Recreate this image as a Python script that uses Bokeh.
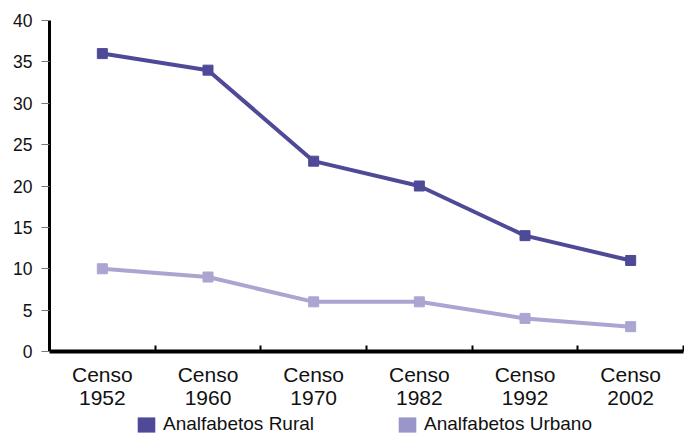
from bokeh.plotting import figure
from bokeh.layouts import column
from bokeh.models import FixedTicker, Legend, LegendItem, Range1d, ColumnDataSource
from bokeh.embed import file_html
from bokeh.resources import INLINE

categories = ["Censo\n1952", "Censo\n1960", "Censo\n1970", "Censo\n1982", "Censo\n1992", "Censo\n2002"]
rural = [36, 34, 23, 20, 14, 11]
urbano = [10, 9, 6, 6, 4, 3]
y_ticks = [0, 5, 10, 15, 20, 25, 30, 35, 40]
series_names = ["Analfabetos Rural", "Analfabetos Urbano"]

RURAL_C = "#4e4a98"
URB_C = "#aaa5d1"
URB_LEG = "#9b96c9"
FONT = "Liberation Sans"

xs = [i + 0.5 for i in range(len(categories))]
src = ColumnDataSource(dict(x=xs, rural=rural, urbano=urbano))

p = figure(width=684, height=411, output_backend="svg", toolbar_location=None,
           x_range=Range1d(0, len(categories)), y_range=Range1d(0, 40),
           min_border_left=49, min_border_right=1, min_border_top=20, min_border_bottom=59)
p.outline_line_color = None
p.xgrid.visible = False
p.ygrid.visible = False
p.background_fill_color = "white"

p.line("x", "rural", source=src, line_color=RURAL_C, line_width=4)
p.scatter("x", "rural", source=src, marker="square", size=10, color=RURAL_C)
p.line("x", "urbano", source=src, line_color=URB_C, line_width=4)
p.scatter("x", "urbano", source=src, marker="square", size=10, color=URB_C)

# x axis
xa = p.xaxis[0]
xa.ticker = FixedTicker(ticks=xs, minor_ticks=[i + 1 for i in range(len(categories))])
xa.major_label_overrides = {x: c for x, c in zip(xs, categories)}
xa.major_tick_line_color = None
xa.major_tick_out = 0
xa.major_tick_in = 0
xa.minor_tick_in = 6
xa.minor_tick_out = 0
xa.minor_tick_line_color = "black"
xa.minor_tick_line_width = 2
xa.axis_line_color = "black"
xa.axis_line_width = 4
xa.major_label_text_font = FONT
xa.major_label_text_font_size = "21px"
xa.major_label_text_line_height = 1.0
xa.major_label_text_color = "#111111"
xa.major_label_standoff = 11

# y axis
ya = p.yaxis[0]
ya.ticker = FixedTicker(ticks=y_ticks)
ya.major_tick_out = 8
ya.major_tick_in = 0
ya.major_tick_line_color = "#777777"
ya.major_tick_line_width = 1
ya.minor_tick_line_color = None
ya.axis_line_color = "black"
ya.axis_line_width = 3
ya.major_label_text_font = FONT
ya.major_label_text_font_size = "17.5px"
ya.major_label_text_color = "#111111"
ya.major_label_standoff = 9

# legend strip
nan = float("nan")
lf = figure(width=684, height=25, output_backend="svg", toolbar_location=None,
            x_axis_type=None, y_axis_type=None, x_range=Range1d(0, 1), y_range=Range1d(0, 1),
            min_border=0)
lf.outline_line_color = None
lf.xgrid.visible = False
lf.ygrid.visible = False
s1 = lf.rect(x=[nan], y=[nan], width=1, height=1, fill_color=RURAL_C, line_color=None)
s2 = lf.rect(x=[nan], y=[nan], width=1, height=1, fill_color=URB_LEG, line_color=None)
legend = Legend(items=[LegendItem(label=series_names[0], renderers=[s1]),
                       LegendItem(label=series_names[1], renderers=[s2])],
                orientation="horizontal", location=(86, 1),
                border_line_color=None, background_fill_alpha=0,
                glyph_width=22, glyph_height=19, label_standoff=6, spacing=82,
                padding=0, margin=0,
                label_text_font=FONT, label_text_font_size="19px",
                label_text_color="#111111")
lf.add_layout(legend, "center")

layout = column(p, lf, spacing=0)
open("out.html", "w").write(file_html(layout, INLINE))
